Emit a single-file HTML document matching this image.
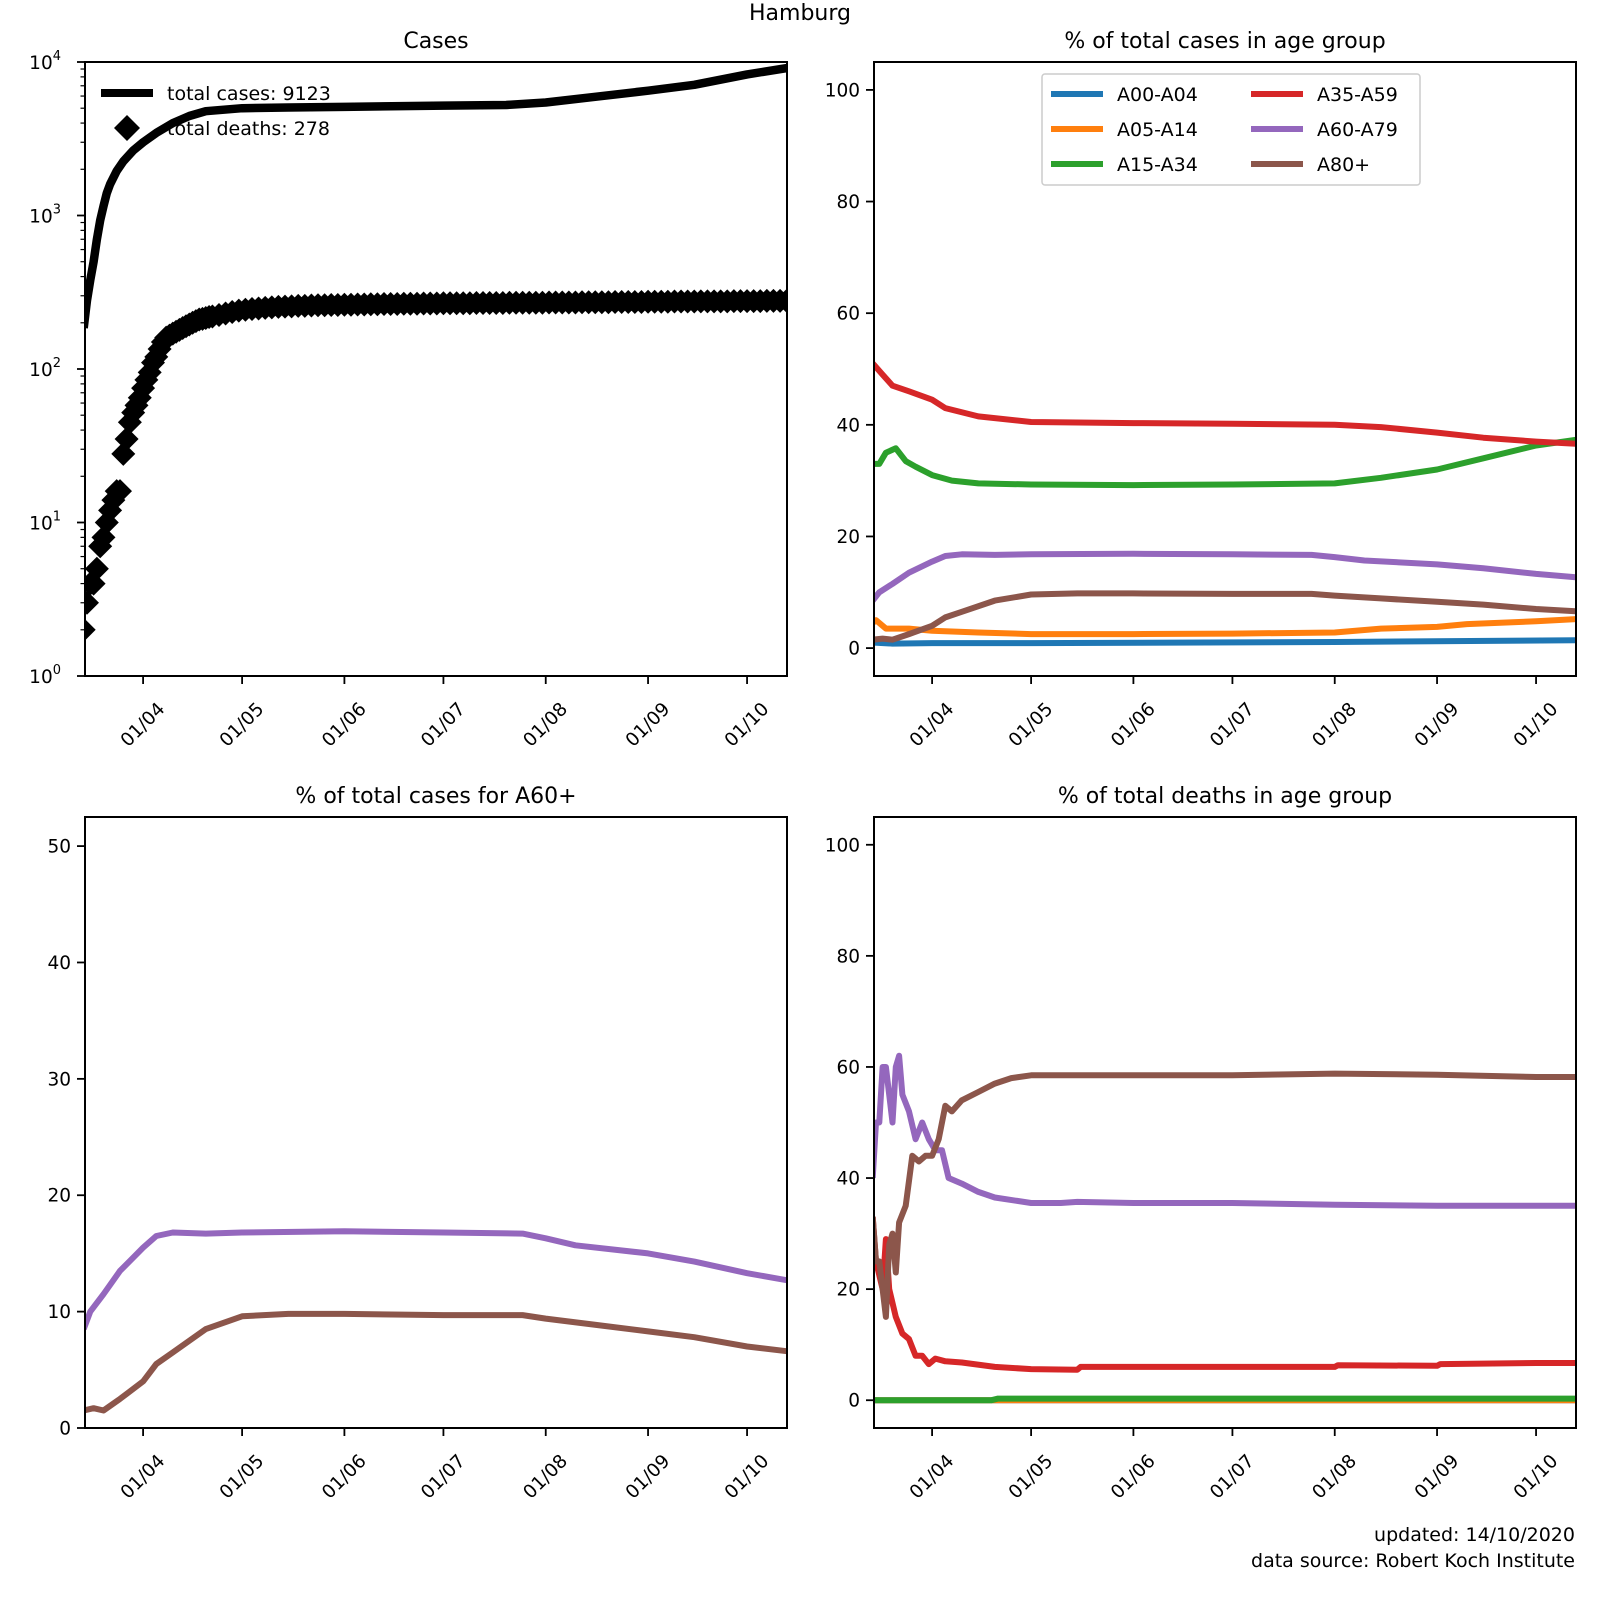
<!DOCTYPE html>
<html><head><meta charset="utf-8"><style>
html,body{margin:0;padding:0;background:#fff;}
svg{display:block;font-family:"DejaVu Sans","Liberation Sans",sans-serif;}
</style></head><body>
<svg id="fig" width="1600" height="1600" viewBox="0 0 1600 1600" xmlns="http://www.w3.org/2000/svg">
<rect width="1600" height="1600" fill="#fff"/>
<text x="800" y="20" font-size="22" text-anchor="middle">Hamburg</text>
<text x="1575" y="1541" font-size="19" text-anchor="end">updated: 14/10/2020</text>
<text x="1575" y="1567" font-size="19" text-anchor="end">data source: Robert Koch Institute</text>
<g id="g"></g>
</svg>
<script>
const monthTicks = ['04-01','05-01','06-01','07-01','08-01','09-01','10-01'];
const monthTickLabels = ['01/04','01/05','01/06','01/07','01/08','01/09','01/10'];
const casesDates = ['03-14','03-15','03-16','03-17','03-18','03-19','03-20','03-21','03-22','03-24','03-26','03-29','04-01','04-05','04-10','04-15','04-20','05-01','05-15','06-01','07-01','07-20','08-01','08-15','09-01','09-15','10-01','10-13'];
const casesTotal = [185,280,380,500,700,930,1150,1400,1600,1950,2250,2650,3000,3450,4000,4450,4780,5000,5050,5100,5200,5250,5450,5900,6500,7100,8300,9123];
const deathDates = ['03-14','03-15','03-16','03-17','03-18','03-19','03-20','03-21','03-22','03-23','03-24','03-25','03-26','03-27','03-28','03-29','03-30','03-31','04-01','04-02','04-03','04-04','04-05','04-06','04-07','04-08','04-09','04-10','04-11','04-12','04-13','04-14','04-15','04-16','04-17','04-18','04-19','04-20','04-21','04-22','04-24','04-26','04-28','04-30',
'05-02','05-04','05-06','05-08','05-10','05-12','05-14','05-16','05-18','05-20','05-22','05-24','05-26','05-28','05-30',
'06-01','06-03','06-05','06-07','06-09','06-11','06-13','06-15','06-17','06-19','06-21','06-23','06-25','06-27','06-29',
'07-01','07-03','07-05','07-07','07-09','07-11','07-13','07-15','07-17','07-19','07-21','07-23','07-25','07-27','07-29','07-31',
'08-02','08-04','08-06','08-08','08-10','08-12','08-14','08-16','08-18','08-20','08-22','08-24','08-26','08-28','08-30',
'09-01','09-03','09-05','09-07','09-09','09-11','09-13','09-15','09-17','09-19','09-21','09-23','09-25','09-27','09-29',
'10-01','10-03','10-05','10-07','10-09','10-11','10-13'];
const deathTotal = [2,3,4,4,5,7,8,10,12,14,16,16,28,35,45,52,58,65,75,85,95,110,120,135,150,160,165,170,175,180,185,190,195,200,205,210,212,215,218,220,225,230,235,240,
243,246,248,250,252,254,255,256,258,258,259,260,260,261,261,
262,262,263,263,264,264,265,265,265,266,266,266,267,267,267,
268,268,268,268,268,269,269,269,269,269,270,270,270,270,270,270,
271,271,271,271,271,272,272,272,272,272,273,273,273,273,273,
274,274,274,274,275,275,275,275,276,276,276,276,276,277,277,
277,277,277,278,278,278,278];

const ageGroups = ['A00-A04','A05-A14','A15-A34','A35-A59','A60-A79','A80+'];
const ageColors = ['#1f77b4','#ff7f0e','#2ca02c','#d62728','#9467bd','#8c564b'];
const pctDatesA00 = ['03-14','03-20','04-01','05-01','08-01','10-13'];
const pctA00 = [1,0.8,0.9,0.9,1.1,1.4];
const pctDatesA05 = ['03-14','03-15','03-18','03-25','04-01','04-15','05-01','06-01','07-01','08-01','08-15','09-01','09-10','10-01','10-13'];
const pctA05 = [4.5,5,3.5,3.5,3.1,2.8,2.5,2.5,2.6,2.8,3.5,3.8,4.3,4.8,5.2];
const pctDatesA15 = ['03-14','03-16','03-18','03-21','03-24','03-27','04-01','04-07','04-15','05-01','06-01','07-01','08-01','08-15','09-01','09-15','10-01','10-13'];
const pctA15 = [33,33,35,35.8,33.5,32.5,31,30,29.5,29.3,29.2,29.3,29.5,30.5,32,34,36.3,37.3];
const pctDatesA35 = ['03-14','03-17','03-20','03-25','04-01','04-05','04-15','05-01','06-01','07-01','08-01','08-15','09-01','09-15','10-01','10-13'];
const pctA35 = [51,49,47,46,44.5,43,41.5,40.5,40.3,40.2,40,39.6,38.6,37.7,37,36.6];
const pctDatesA60 = ['03-14','03-16','03-20','03-25','04-01','04-05','04-10','04-20','05-01','06-01','07-01','07-25','08-01','08-10','09-01','09-15','10-01','10-13'];
const pctA60 = [8.5,10,11.5,13.5,15.5,16.5,16.8,16.7,16.8,16.9,16.8,16.7,16.3,15.7,15,14.3,13.3,12.7];
const pctDatesA80 = ['03-14','03-17','03-20','03-25','04-01','04-05','04-10','04-20','05-01','05-15','06-01','07-01','07-25','08-01','08-15','09-01','09-15','10-01','10-13'];
const pctA80 = [1.5,1.7,1.5,2.5,4,5.5,6.5,8.5,9.6,9.8,9.8,9.7,9.7,9.4,8.9,8.3,7.8,7,6.6];

const dDatesA00 = ['03-14','10-13'];
const dA00 = [0,0];
const dDatesA05 = ['03-14','10-13'];
const dA05 = [0,0];
const dDatesA15 = ['03-14','04-19','04-21','10-13'];
const dA15 = [0,0,0.3,0.3];
const dDatesA35 = ['03-14','03-15','03-17','03-18','03-19','03-21','03-23','03-25','03-27','03-29','03-31','04-02','04-05','04-10','04-20','05-01','05-15','05-16','06-01','08-01','08-02','09-01','09-02','10-01','10-13'];
const dA35 = [33,25,20,29,20,15,12,11,8,8,6.5,7.5,7,6.8,6,5.6,5.5,6,6,6,6.3,6.2,6.5,6.7,6.7];
const dDatesA60 = ['03-14','03-15','03-16','03-17','03-18','03-19','03-20','03-21','03-22','03-23','03-25','03-27','03-29','03-31','04-02','04-04','04-06','04-10','04-15','04-20','05-01','05-10','05-15','06-01','07-01','08-01','09-01','10-01','10-13'];
const dA60 = [40,50,50,60,60,55,50,60,62,55,52,47,50,47,45,45,40,39,37.5,36.5,35.5,35.5,35.7,35.5,35.5,35.2,35,35,35];
const dDatesA80 = ['03-14','03-15','03-16','03-17','03-18','03-19','03-20','03-21','03-22','03-24','03-26','03-28','03-30','04-01','04-03','04-05','04-07','04-10','04-15','04-20','04-25','05-01','05-10','06-01','07-01','08-01','09-01','10-01','10-13'];
const dA80 = [33,25,25,20,15,28,30,23,32,35,44,43,44,44,47,53,52,54,55.5,57,58,58.5,58.5,58.5,58.5,58.8,58.6,58.2,58.2];

const NS='http://www.w3.org/2000/svg';
const G=document.getElementById('g');
function el(tag,attrs,parent,txt){const e=document.createElementNS(NS,tag);for(const k in attrs)e.setAttribute(k,attrs[k]);if(txt!==undefined)e.textContent=txt;(parent||G).appendChild(e);return e;}
const cum=[0,0,0,0,31,61,92,122,153,184,214,245];
function day(s){const m=+s.slice(0,2),d=+s.slice(3);return cum[m]+d-1;}
const D0=13.4,D1=226.1;

function makeAxes(name,x0,y0,x1,y1,title){
  const ax={x0,y0,x1,y1};
  ax.x=d=>x0+(d-D0)/(D1-D0)*(x1-x0);
  const g=el('g',{},G);
  
  
  ax.g=g;
  const t=el('text',{x:(x0+x1)/2,y:y0-14,'font-size':22,'text-anchor':'middle'},g,title);
  
  
  ax.plot=el('g',{'clip-path':'url(#clip-'+name+')'},g);
  const cp=el('clipPath',{id:'clip-'+name},g);
  el('rect',{x:x0,y:y0,width:x1-x0,height:y1-y0},cp);
  monthTicks.forEach((m,i)=>{
    const xx=ax.x(day(m));
    el('line',{x1:xx,x2:xx,y1:y1,y2:y1+8,stroke:'#000','stroke-width':1.8},g);
    const lb=el('text',{x:xx,y:y1+49,'font-size':18.5,'text-anchor':'middle','dominant-baseline':'central',transform:'rotate(-45 '+xx+' '+(y1+49)+')'},g,monthTickLabels[i]);
    
    
  });
  return ax;
}
function frame(ax){el('rect',{x:ax.x0,y:ax.y0,width:ax.x1-ax.x0,height:ax.y1-ax.y0,fill:'none',stroke:'#000','stroke-width':2},ax.g);}
function linYTicks(ax,ymin,ymax,ticks){
  ax.y=v=>ax.y1-(v-ymin)/(ymax-ymin)*(ax.y1-ax.y0);
  ticks.forEach(v=>{const yy=ax.y(v);
    el('line',{x1:ax.x0-8,x2:ax.x0,y1:yy,y2:yy,stroke:'#000','stroke-width':1.8},ax.g);
    const t=el('text',{x:ax.x0-14,y:yy+6.5,'font-size':18.5,'text-anchor':'end'},ax.g,String(v));
    
    
  });
}
function series(ax,dates,vals,color,w,name){
  const pts=dates.map((d,i)=>ax.x(day(d)).toFixed(1)+','+ax.y(vals[i]).toFixed(1)).join(' ');
  const p=el('polyline',{points:pts,fill:'none',stroke:color,'stroke-width':w,'stroke-linejoin':'round','stroke-linecap':'butt'},ax.plot);
  
  
}

// Panel 1: Cases (log)
const a1=makeAxes('cases-panel',85,62,787,676,'Cases');
a1.y=v=>a1.y1-Math.log10(v)/4*(a1.y1-a1.y0);
for(let e=0;e<=4;e++){const yy=a1.y(Math.pow(10,e));
  el('line',{x1:a1.x0-8,x2:a1.x0,y1:yy,y2:yy,stroke:'#000','stroke-width':1.8},a1.g);
  const t=el('text',{x:a1.x0-24,y:yy+7,'font-size':18.5,'text-anchor':'end'},a1.g);
  
  
  t.textContent='10';
  el('tspan',{'font-size':13,dy:-9},t,String(e));
  if(e<4)for(let k=2;k<=9;k++){const y2=a1.y(k*Math.pow(10,e));el('line',{x1:a1.x0-4.5,x2:a1.x0,y1:y2,y2:y2,stroke:'#000','stroke-width':1.2},a1.g);}
}
series(a1,casesDates,casesTotal,'#000',8.5,'total-cases-line');
deathDates.forEach((d,i)=>{const cx=a1.x(day(d)),cy=a1.y(deathTotal[i]),r=12;
  const m=el('polygon',{points:`${cx},${cy-r} ${cx+r},${cy} ${cx},${cy+r} ${cx-r},${cy}`,fill:'#000'},a1.plot);
  
  
});
frame(a1);
const lg1=el('g',{},a1.g);


el('line',{x1:101,x2:153,y1:93,y2:93,stroke:'#000','stroke-width':8},lg1);
el('text',{x:167,y:100,'font-size':19},lg1,'total cases: 9123');
el('polygon',{points:'127,115 140,128 127,141 114,128',fill:'#000'},lg1);
el('text',{x:167,y:135,'font-size':19},lg1,'total deaths: 278');

// Panel 2: % cases by age
const a2=makeAxes('cases-age-panel',874,62,1576,676,'% of total cases in age group');
linYTicks(a2,-5,105,[0,20,40,60,80,100]);
const caseSeries=[[pctDatesA00,pctA00],[pctDatesA05,pctA05],[pctDatesA15,pctA15],[pctDatesA35,pctA35],[pctDatesA60,pctA60],[pctDatesA80,pctA80]];
caseSeries.forEach((s,i)=>series(a2,s[0],s[1],ageColors[i],6,'cases-line-'+ageGroups[i].toLowerCase()));
frame(a2);
const lg2=el('g',{},a2.g);


el('rect',{x:1042,y:74,width:378,height:111,fill:'#fff',stroke:'#ccc','stroke-width':1.5,rx:3},lg2);
ageGroups.forEach((n,i)=>{const col=Math.floor(i/3),row=i%3;const lx=1051+col*200,ly=94+row*35;
  el('line',{x1:lx,x2:lx+52,y1:ly,y2:ly,stroke:ageColors[i],'stroke-width':6},lg2);
  const t=el('text',{x:lx+66,y:ly+7,'font-size':19},lg2,n);
  
  
});

// Panel 3: A60+
const a3=makeAxes('a60-panel',85,817,787,1428,'% of total cases for A60+');
linYTicks(a3,0,52.5,[0,10,20,30,40,50]);
series(a3,pctDatesA60,pctA60,ageColors[4],6,'a60-a79-line');
series(a3,pctDatesA80,pctA80,ageColors[5],6,'a80-line');
frame(a3);

// Panel 4: deaths by age
const a4=makeAxes('deaths-age-panel',874,817,1576,1428,'% of total deaths in age group');
linYTicks(a4,-5,105,[0,20,40,60,80,100]);
const deathSeries=[[dDatesA00,dA00],[dDatesA05,dA05],[dDatesA15,dA15],[dDatesA35,dA35],[dDatesA60,dA60],[dDatesA80,dA80]];
deathSeries.forEach((s,i)=>series(a4,s[0],s[1],ageColors[i],6,'deaths-line-'+ageGroups[i].toLowerCase()));
frame(a4);
</script>
</body></html>
